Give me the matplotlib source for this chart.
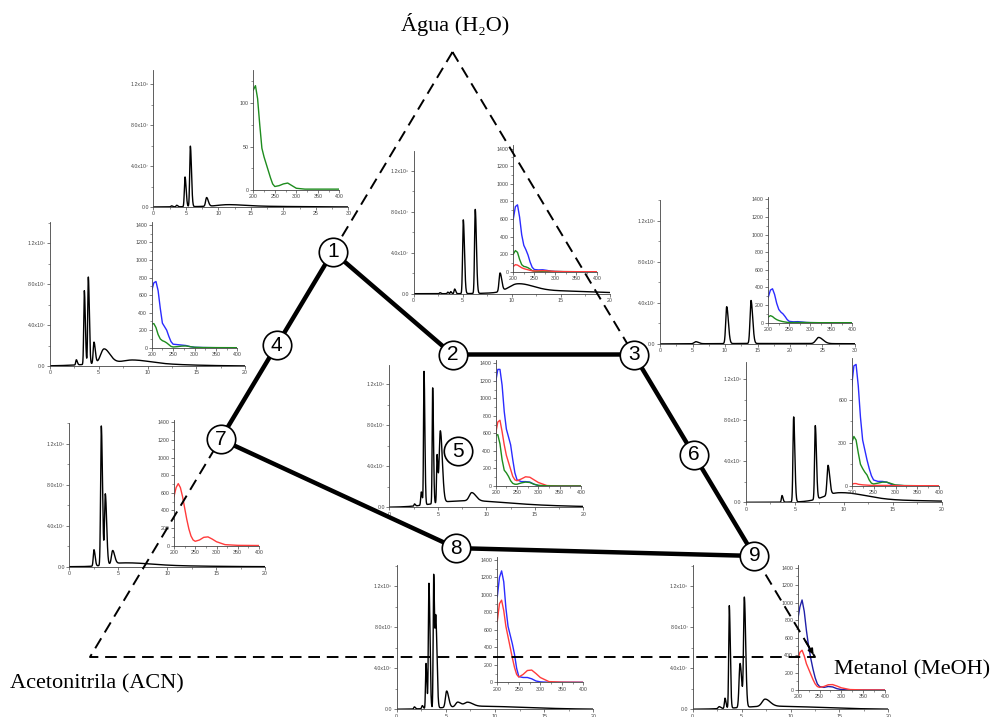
import numpy as np
import matplotlib.pyplot as plt
from matplotlib.ticker import MultipleLocator, FixedLocator, FixedFormatter

plt.rcParams['font.family'] = ['Liberation Sans', 'DejaVu Sans']

W, H = 992, 717

# ---- design points (fractions of water and methanol, acetonitrile = rest)
point_labels = ['1', '2', '3', '4', '5', '6', '7', '8', '9']
water = [0.67, 0.50, 0.50, 0.515, 0.34, 0.334, 0.36, 0.18, 0.167]
methanol = [0.0, 0.25, 0.50, 0.0, 0.338, 0.666, 0.0, 0.415, 0.833]
polygon_order = ['1', '2', '3', '6', '9', '8', '7', '4', '1']

# ---- chromatogram peaks: (time min, height x1e7, width)
peaks_1 = [(2.8, 0.1, 0.1), (3.6, 0.15, 0.1), (4.88, 2.9, 0.1), (5.7, 5.9, 0.1),
           (8.2, 0.85, 0.15), (11.5, 0.15, 1.5), (12, 0.08, 5)]
peaks_2 = [(2.7, 0.1, 0.05), (3.5, 0.15, 0.05), (3.8, 0.2, 0.05), (4.2, 0.45, 0.06),
           (5.08, 7.2, 0.07), (6.3, 8.2, 0.07), (8.83, 1.8, 0.1), (10.6, 0.75, 0.9),
           (13, 0.3, 3)]
peaks_3 = [(5.5, 0.2, 0.25), (10.26, 3.6, 0.15), (14.0, 4.2, 0.15), (24.4, 0.6, 0.4),
           (15, 0.05, 8)]
peaks_4 = [(2.7, 0.5, 0.06), (3.52, 7.2, 0.06), (3.93, 8.5, 0.06), (4.51, 2.1, 0.08),
           (5.54, 1.4, 0.35), (8.5, 0.3, 1.0), (7, 0.3, 3)]
peaks_5 = [(2.6, 0.2, 0.05), (3.3, 1.3, 0.06), (3.58, 13.0, 0.05), (4.47, 11.3, 0.05),
           (4.92, 4.6, 0.05), (5.26, 7.0, 0.12), (8.5, 0.8, 0.25), (7, 0.5, 2.5),
           (11, 0.2, 4)]
peaks_6 = [(3.68, 0.65, 0.06), (4.87, 8.3, 0.07), (7.08, 7.2, 0.07), (8.38, 2.9, 0.1),
           (9.5, 0.8, 1.5), (13, 0.2, 4)]
peaks_7 = [(2.52, 1.6, 0.07), (3.27, 13.6, 0.07), (3.68, 6.9, 0.08), (4.43, 1.3, 0.12),
           (5.5, 0.3, 1.5), (8, 0.1, 3)]
peaks_8 = [(1.8, 0.2, 0.06), (2.6, 0.3, 0.06), (2.98, 4.4, 0.05), (3.28, 12.2, 0.06),
           (3.76, 13.0, 0.05), (3.98, 8.6, 0.07), (5.08, 1.6, 0.12), (6.2, 0.45, 0.2),
           (7.2, 0.4, 0.3), (8, 0.3, 3)]
peaks_9 = [(2.7, 0.2, 0.1), (3.3, 1.0, 0.06), (3.74, 10.0, 0.06), (4.84, 4.3, 0.1),
           (5.28, 10.6, 0.08), (7.4, 0.7, 0.3), (8, 0.3, 3)]

# ---- UV spectra (absorbance vs wavelength)
wl = [200, 205, 210, 215, 220, 225, 230, 235, 240, 245, 250, 260, 270, 280, 290, 300, 320, 350, 400]
spec_1 = {'green': [115, 120, 105, 75, 48, 38, 30, 22, 14, 7, 4, 5, 7, 8, 5, 2, 1, 1, 1]}
spec_2 = {'blue': [600, 740, 760, 620, 420, 300, 250, 190, 110, 50, 25, 20, 22, 15, 5, 2, 0, 0, 0],
          'green': [200, 240, 220, 140, 80, 60, 55, 45, 30, 12, 5, 3, 5, 5, 3, 2, 1, 0, 0],
          'red': [60, 80, 75, 60, 45, 35, 28, 22, 15, 10, 8, 10, 12, 10, 6, 3, 1, 0, 0]}
spec_3 = {'blue': [290, 370, 385, 320, 220, 150, 120, 100, 70, 35, 15, 10, 12, 8, 3, 1, 0, 0, 0],
          'green': [65, 80, 70, 50, 35, 25, 18, 12, 8, 4, 2, 2, 3, 3, 2, 1, 0, 0, 0]}
spec_4 = {'blue': [650, 740, 755, 650, 450, 280, 240, 200, 130, 70, 40, 35, 30, 25, 12, 5, 2, 0, 0],
          'green': [270, 275, 230, 150, 100, 80, 70, 55, 35, 15, 8, 12, 18, 20, 12, 5, 2, 1, 0]}
spec_5 = {'blue': [1190, 1330, 1330, 1150, 850, 650, 560, 470, 300, 150, 70, 50, 50, 45, 20, 5, 0, 0, 0],
          'red': [600, 730, 750, 620, 470, 350, 270, 190, 110, 70, 60, 80, 105, 100, 70, 40, 5, 0, 0],
          'green': [580, 585, 480, 300, 180, 150, 110, 60, 30, 20, 20, 35, 45, 40, 20, 8, 2, 0, 0]}
spec_6 = {'blue': [700, 840, 850, 700, 480, 320, 250, 180, 120, 70, 40, 30, 30, 25, 10, 3, 0, 0, 0],
          'green': [300, 345, 320, 230, 150, 120, 95, 75, 40, 18, 12, 18, 25, 25, 15, 5, 1, 0, 0],
          'red': [8, 15, 15, 10, 8, 6, 5, 4, 3, 2, 2, 2, 2, 2, 1, 1, 0, 0, 0]}
spec_7 = {'red': [560, 660, 705, 660, 560, 430, 300, 190, 110, 65, 50, 65, 95, 100, 75, 45, 12, 4, 2]}
spec_8 = {'blue': [980, 1200, 1275, 1150, 850, 640, 540, 440, 320, 160, 65, 55, 55, 40, 15, 5, 0, 0, 0],
          'red': [700, 900, 940, 820, 640, 520, 400, 280, 170, 90, 60, 90, 135, 140, 100, 55, 8, 2, 0]}
spec_9 = {'navy': [800, 950, 1030, 900, 680, 500, 360, 240, 140, 70, 40, 30, 40, 35, 15, 5, 0, 0, 0],
          'red': [340, 430, 455, 390, 300, 240, 180, 120, 70, 40, 30, 40, 60, 62, 45, 25, 5, 1, 0]}

peaks = [peaks_1, peaks_2, peaks_3, peaks_4, peaks_5, peaks_6, peaks_7, peaks_8, peaks_9]
spectra = [spec_1, spec_2, spec_3, spec_4, spec_5, spec_6, spec_7, spec_8, spec_9]
time_max = [30, 20, 30, 20, 20, 20, 20, 20, 20]
spec_ymax = [138, 1440, 1430, 1430, 1437, 895, 1427, 1434, 1430]

chrom_yticks = [0, 4e7, 8e7, 1.2e8]
chrom_ylabels = ['0.0', '4.0x10⁷', '8.0x10⁷', '1.2x10⁸']

colors = {'blue': '#2b2bff', 'green': '#1e8c1e', 'red': '#ff3b3b', 'navy': '#2020a8'}

# ---- layout (pixel boxes: left, right, bottom, top)
chrom_box = [(153.3, 348.3, 207, 70), (413.5, 609.5, 293.7, 150.7), (660, 855, 344, 200),
             (50, 245, 366, 222.3), (389.3, 583.3, 507.3, 365), (746, 941.7, 502.3, 362),
             (69.3, 265, 566.7, 422.7), (396.7, 593.3, 709.3, 565), (692.7, 888.3, 709.3, 565)]
spec_box = [(253.3, 339.3, 190, 70), (513.3, 597.3, 271.7, 145), (768.3, 852.3, 322.7, 196.7),
            (151.7, 237.3, 347.7, 222.3), (495.7, 581, 486, 360), (851.7, 939.3, 485.7, 358),
            (174, 259, 545.7, 420), (497.3, 583.3, 682.3, 557), (797.7, 885, 690, 565)]


def add_box(box):
    x0, x1, y0, y1 = box
    return fig.add_axes([x0 / W, 1 - y0 / H, (x1 - x0) / W, (y0 - y1) / H])


def style(ax):
    for s in ['top', 'right']:
        ax.spines[s].set_visible(False)
    for s in ['left', 'bottom']:
        ax.spines[s].set_linewidth(0.6)
        ax.spines[s].set_color('#444444')
    ax.patch.set_alpha(0)
    ax.tick_params(which='major', length=2.2, width=0.5, pad=1, labelsize=3.8,
                   colors='#444444', direction='out')
    ax.tick_params(which='minor', length=1.1, width=0.4, colors='#444444', direction='out')


def trace(t, pk, tail=1.7):
    y = np.zeros_like(t)
    for t0, h, w in pk:
        s = np.where(t < t0, w, w * tail)
        y += h * 1e7 * np.exp(-0.5 * ((t - t0) / s) ** 2)
    return y


fig = plt.figure(figsize=(W / 100, H / 100), dpi=100)

for i in range(9):
    # chromatogram
    ax = add_box(chrom_box[i])
    style(ax)
    t = np.linspace(0, time_max[i], 4000)
    ax.plot(t, trace(t, peaks[i]), color='black', lw=1.0)
    ax.set_xlim(0, time_max[i])
    x0, x1, y0, y1 = chrom_box[i]
    ax.set_ylim(0, (y0 - y1) / 41 * 4e7)
    ax.yaxis.set_major_locator(FixedLocator(chrom_yticks))
    ax.yaxis.set_major_formatter(FixedFormatter(chrom_ylabels))
    ax.yaxis.set_minor_locator(MultipleLocator(2e7))
    ax.xaxis.set_major_locator(MultipleLocator(5))
    ax.xaxis.set_minor_locator(MultipleLocator(2.5))

    # UV spectrum inset
    axs = add_box(spec_box[i])
    style(axs)
    for name, vals in spectra[i].items():
        axs.plot(wl, vals, color=colors[name], lw=1.0)
    axs.set_xlim(200, 400)
    axs.set_ylim(0, spec_ymax[i])
    axs.xaxis.set_major_locator(MultipleLocator(50))
    axs.xaxis.set_minor_locator(MultipleLocator(25))
    if spec_ymax[i] < 200:
        axs.yaxis.set_major_locator(MultipleLocator(50))
        axs.yaxis.set_minor_locator(MultipleLocator(25))
    elif spec_ymax[i] < 1000:
        axs.yaxis.set_major_locator(MultipleLocator(300))
        axs.yaxis.set_minor_locator(MultipleLocator(150))
    else:
        axs.yaxis.set_major_locator(MultipleLocator(200))
        axs.yaxis.set_minor_locator(MultipleLocator(100))

# ---- ternary overlay: acetonitrile (0,0), methanol (1,0), water (0.5,1)
tern = fig.add_axes([90 / W, 1 - 657 / H, 725 / W, 605 / H])
tern.set_xlim(0, 1)
tern.set_ylim(0, 1)
tern.axis('off')
tern.patch.set_alpha(0)

corner_w = [1, 0, 0]
corner_m = [0, 0, 1]
tx = [m + w / 2 for w, m in zip(corner_w + corner_w[:1], corner_m + corner_m[:1])]
ty = [w for w in corner_w + corner_w[:1]]
tern.plot(tx, ty, color='black', lw=1.4, ls=(0, (6, 3.5)), clip_on=False)
tern.annotate('', xy=(1.0, 0.0), xytext=(0.985, 0.03),
              arrowprops=dict(arrowstyle='-|>', color='black', lw=1.2, mutation_scale=8))

px = {lab: (m + w / 2, w) for lab, w, m in zip(point_labels, water, methanol)}
poly_x = [px[p][0] for p in polygon_order]
poly_y = [px[p][1] for p in polygon_order]
tern.plot(poly_x, poly_y, color='black', lw=3.2, solid_capstyle='round', clip_on=False)
tern.scatter([px[p][0] for p in point_labels], [px[p][1] for p in point_labels],
             s=420, facecolor='white', edgecolor='black', linewidth=1.2, zorder=5, clip_on=False)
for p in point_labels:
    tern.text(px[p][0], px[p][1], p, ha='center', va='center', fontsize=15,
              family=['Liberation Sans', 'DejaVu Sans'], zorder=6)

serif = ['Liberation Serif', 'DejaVu Serif']
fig.text(455 / W, 1 - 24 / H, 'Água (H₂O)', ha='center', va='center', fontsize=16, family=serif)
fig.text(10 / W, 1 - 684 / H, 'Acetonitrila (ACN)', ha='left', va='center', fontsize=16, family=serif)
fig.text(990 / W, 1 - 670 / H, 'Metanol (MeOH)', ha='right', va='center', fontsize=16, family=serif)

fig.savefig('out.png', dpi=100)
